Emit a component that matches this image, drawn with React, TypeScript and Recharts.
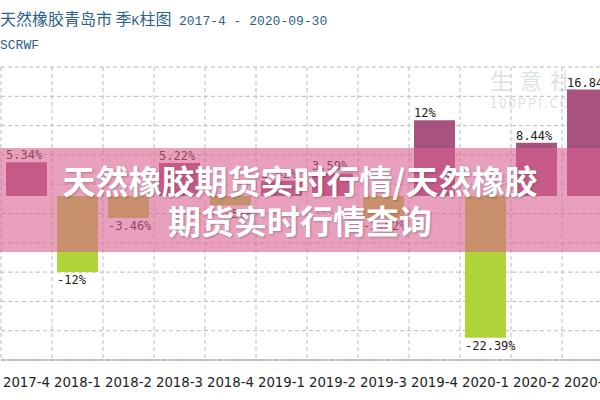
import React from 'react';
import { BarChart, Bar, XAxis, YAxis, CartesianGrid, LabelList, Cell } from 'recharts';

// quarterly change, %
const quarters = ['2017-4', '2018-1', '2018-2', '2018-3', '2018-4', '2019-1', '2019-2', '2019-3', '2019-4', '2020-1', '2020-2', '2020-3'];
const changes = [5.34, -12, -3.46, 5.22, -1.5, 2.42, 3.59, -3.52, 12, -22.39, 8.44, 16.84];
const yDomain = [-25.9, 20.4];

const data = quarters.map((q, i) => ({ name: q, value: changes[i] }));

const UP = '#A8527F';
const DOWN = '#AED43A';
const titleColor = '#2a5f8e';

const fmt = (v: number) => (Number.isInteger(v) ? String(v) : v.toFixed(2)) + '%';

const ValueLabel = (props: any) => {
  const { x, y, width, height, value } = props;
  const top = Math.min(y, y + height);
  const bottom = Math.max(y, y + height);
  const ty = value >= 0 ? top - 3 : bottom + 12;
  return (
    <text x={x} y={ty} fontFamily="'DejaVu Sans Mono', monospace" fontSize={12} fill="#222">
      {fmt(value)}
    </text>
  );
};

const cjk = { fontFamily: "'Noto Sans CJK SC', sans-serif", fontSize: 16 };
const mono = { fontFamily: "'Liberation Mono', monospace", fontSize: 13 };

const App: React.FC = () => {
  return (
    <div style={{ position: 'absolute', left: 0, top: 0, width: 600, height: 400, overflow: 'hidden', background: '#fff' }}>
      <div style={{ position: 'absolute', left: 0, top: 8, color: titleColor, whiteSpace: 'nowrap', lineHeight: '20px' }}>
        <span style={cjk}>天然橡胶青岛市 季</span>
        <span style={mono}>K</span>
        <span style={cjk}>柱图 </span>
        <span style={{ ...mono, marginLeft: 4 }}>2017-4 - 2020-09-30</span>
      </div>
      <div style={{ position: 'absolute', left: 0, top: 36, color: titleColor, ...mono, lineHeight: '20px' }}>SCRWF</div>

      <div style={{ position: 'absolute', left: 470, top: 68, color: '#9aa', opacity: 0.35, fontFamily: "'Noto Sans CJK SC', sans-serif", lineHeight: 1 }}>
        <div style={{ fontSize: 22, letterSpacing: 8, paddingLeft: 20 }}>生意社</div>
        <div style={{ fontSize: 13, letterSpacing: 2, paddingLeft: 20, marginTop: 6 }}>100PPI.COM</div>
      </div>

      <div style={{ position: 'absolute', left: 0, top: 0 }}>
        <BarChart
          width={620}
          height={400}
          data={data}
          margin={{ top: 67, right: 7, left: 1, bottom: 0 }}
          barSize={41}
        >
          <CartesianGrid
            stroke="#bbb"
            strokeDasharray="4 3"
            horizontalCoordinatesGenerator={({ offset }: any) =>
              Array.from({ length: 11 }, (_, i) => offset.top + (i * offset.height) / 10)
            }
            verticalCoordinatesGenerator={({ offset }: any) =>
              Array.from({ length: quarters.length + 1 }, (_, i) => offset.left + (i * offset.width) / quarters.length)
            }
          />
          <XAxis
            dataKey="name"
            height={40}
            axisLine={{ stroke: '#999' }}
            tickLine={false}
            interval={0}
            tick={{ fontFamily: "'DejaVu Sans', sans-serif", fontSize: 13.3, fill: '#222' }}
            tickMargin={12}
          />
          <YAxis width={0} domain={yDomain} tick={false} tickLine={false} axisLine={{ stroke: '#999' }} allowDataOverflow />
          <Bar dataKey="value" isAnimationActive={false}>
            {data.map((d, i) => (
              <Cell key={i} fill={d.value >= 0 ? UP : DOWN} />
            ))}
            <LabelList dataKey="value" content={<ValueLabel />} />
          </Bar>
        </BarChart>
      </div>

      <div
        style={{
          position: 'absolute',
          left: 0,
          top: 148,
          width: 600,
          height: 104,
          background: 'rgba(217,97,143,0.6)',
          color: '#fff',
          fontFamily: "'Noto Sans CJK SC', sans-serif",
          fontWeight: 700,
          fontSize: 33,
          lineHeight: '40px',
          textAlign: 'center',
          paddingTop: 12,
          boxSizing: 'border-box',
          textShadow: '1px 1px 2px rgba(0,0,0,0.25)',
        }}
      >
        天然橡胶期货实时行情/天然橡胶
        <br />
        期货实时行情查询
      </div>
    </div>
  );
};

export default App;
